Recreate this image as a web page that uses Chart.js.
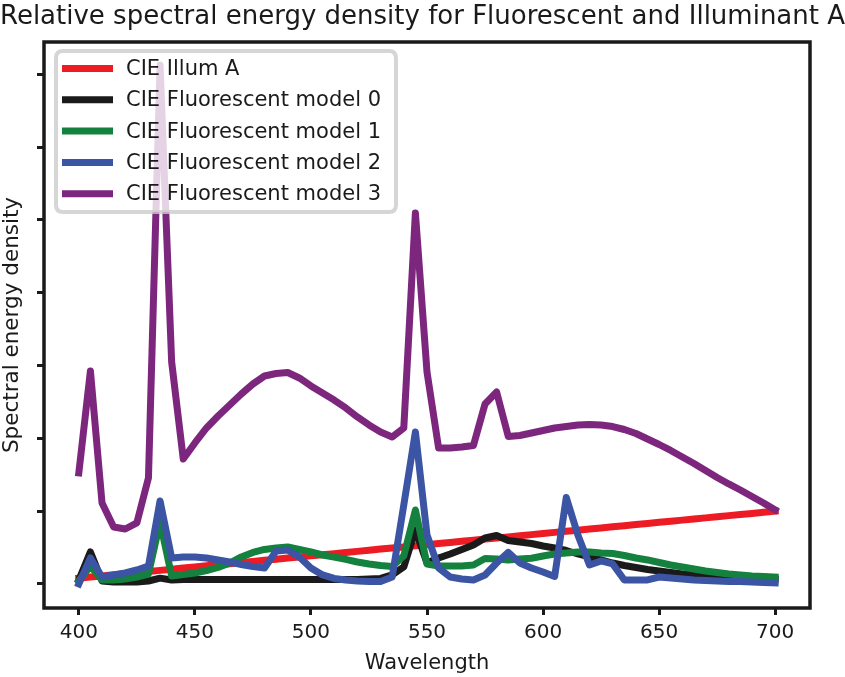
<!DOCTYPE html>
<html>
<head>
<meta charset="utf-8">
<script src="https://cdn.jsdelivr.net/npm/chart.js@4.4.1/dist/chart.umd.min.js"></script>
<style>
  html, body { margin: 0; padding: 0; background: #ffffff; }
  #wrap { width: 845px; height: 677px; }
</style>
</head>
<body>
<div id="wrap"><canvas id="c" width="845" height="677"></canvas></div>
<script>
const chartTitle = "Relative spectral energy density for Fluorescent and Illuminant A";
const xLabel = "Wavelength";
const yLabel = "Spectral energy density";

const wavelengths = [400,405,410,415,420,425,430,435,440,445,450,455,460,465,470,475,480,485,490,495,
  500,505,510,515,520,525,530,535,540,545,550,555,560,565,570,575,580,585,590,595,
  600,605,610,615,620,625,630,635,640,645,650,655,660,665,670,675,680,685,690,695,700];

const seriesNames = ["CIE Illum A","CIE Fluorescent model 0","CIE Fluorescent model 1","CIE Fluorescent model 2","CIE Fluorescent model 3"];

const illumA = [0.080,0.095,0.111,0.126,0.141,0.157,0.172,0.187,0.203,0.218,
  0.233,0.249,0.264,0.279,0.295,0.310,0.325,0.341,0.356,0.371,
  0.387,0.402,0.417,0.433,0.448,0.463,0.479,0.494,0.509,0.525,
  0.540,0.555,0.571,0.586,0.601,0.617,0.632,0.647,0.663,0.678,
  0.693,0.709,0.724,0.739,0.755,0.770,0.785,0.801,0.816,0.831,
  0.847,0.862,0.877,0.893,0.908,0.923,0.939,0.954,0.969,0.985,1.000];

const fluor0 = [0.055,0.440,0.041,0.027,0.027,0.027,0.041,0.080,0.055,0.062,
  0.062,0.062,0.062,0.062,0.062,0.062,0.062,0.062,0.062,0.062,
  0.062,0.062,0.062,0.062,0.062,0.069,0.076,0.124,0.234,0.742,
  0.288,0.357,0.412,0.474,0.536,0.632,0.666,0.598,0.577,0.556,
  0.522,0.495,0.460,0.412,0.371,0.330,0.288,0.254,0.227,0.199,
  0.179,0.158,0.137,0.124,0.110,0.096,0.089,0.082,0.076,0.069,0.062];

const fluor1 = [0.041,0.247,0.055,0.055,0.069,0.096,0.137,0.852,0.110,0.130,
  0.151,0.185,0.227,0.288,0.371,0.433,0.474,0.495,0.508,0.474,
  0.440,0.398,0.371,0.337,0.302,0.275,0.254,0.240,0.385,1.016,
  0.275,0.247,0.247,0.247,0.261,0.350,0.343,0.330,0.343,0.353,
  0.385,0.412,0.426,0.440,0.440,0.426,0.419,0.391,0.357,0.330,
  0.295,0.261,0.234,0.206,0.179,0.158,0.137,0.124,0.110,0.103,0.096];

const fluor2 = [0.000,0.357,0.096,0.124,0.151,0.192,0.247,1.140,0.357,0.371,
  0.371,0.357,0.330,0.302,0.268,0.240,0.220,0.453,0.467,0.371,
  0.220,0.124,0.076,0.055,0.041,0.034,0.034,0.096,1.085,2.088,
  0.673,0.220,0.096,0.069,0.055,0.124,0.288,0.433,0.288,0.220,
  0.165,0.103,1.188,0.673,0.261,0.316,0.275,0.055,0.055,0.055,
  0.096,0.082,0.069,0.055,0.048,0.041,0.034,0.034,0.027,0.021,0.014];

const fluor3 = [1.525,2.926,1.113,0.783,0.755,0.838,1.456,7.129,3.049,1.717,
  1.937,2.143,2.308,2.459,2.610,2.747,2.857,2.891,2.905,2.830,
  2.720,2.624,2.527,2.418,2.294,2.184,2.088,2.019,2.143,5.096,
  2.912,1.868,1.868,1.882,1.902,2.473,2.637,2.026,2.040,2.074,
  2.108,2.143,2.163,2.184,2.191,2.184,2.163,2.122,2.067,1.992,
  1.916,1.834,1.745,1.655,1.559,1.463,1.374,1.291,1.202,1.113,1.016];

const xTicks = [400,450,500,550,600,650,700];
const yTicks = [0,1,2,3,4,5,6,7];

const seriesColors = ["#ed1c24","#1a1a1a","#14813f","#3b55a4","#7d267e"];
const seriesValues = [illumA, fluor0, fluor1, fluor2, fluor3];

const FONT = "'DejaVu Sans', 'Liberation Sans', sans-serif";
const INK = "#1a1a1a";

const datasets = seriesValues.map((vals, i) => ({
  label: seriesNames[i],
  data: wavelengths.map((w, k) => ({x: w, y: vals[k]})),
  borderColor: seriesColors[i],
  backgroundColor: seriesColors[i],
  borderWidth: 7,
  pointRadius: 0,
  tension: 0,
  fill: false,
  borderJoinStyle: 'round',
  borderCapStyle: 'square',
  order: seriesValues.length - 1 - i
}));

const framePlugin = {
  id: 'frameAndLegend',
  afterDatasetsDraw(chart) {
    const {ctx, chartArea: a} = chart;
    ctx.save();
    // spines
    ctx.strokeStyle = INK;
    ctx.lineWidth = 3.5;
    ctx.strokeRect(a.left, a.top, a.right - a.left, a.bottom - a.top);
    // legend box
    const bx = 56, by = 51, bw = 340, bh = 161, r = 7;
    ctx.beginPath();
    ctx.moveTo(bx + r, by);
    ctx.lineTo(bx + bw - r, by);
    ctx.quadraticCurveTo(bx + bw, by, bx + bw, by + r);
    ctx.lineTo(bx + bw, by + bh - r);
    ctx.quadraticCurveTo(bx + bw, by + bh, bx + bw - r, by + bh);
    ctx.lineTo(bx + r, by + bh);
    ctx.quadraticCurveTo(bx, by + bh, bx, by + bh - r);
    ctx.lineTo(bx, by + r);
    ctx.quadraticCurveTo(bx, by, bx + r, by);
    ctx.closePath();
    ctx.fillStyle = 'rgba(255,255,255,0.8)';
    ctx.fill();
    ctx.strokeStyle = 'rgba(204,204,204,0.8)';
    ctx.lineWidth = 4;
    ctx.stroke();
    // entries
    ctx.font = "21px " + FONT;
    ctx.textBaseline = 'middle';
    ctx.textAlign = 'left';
    seriesNames.forEach((name, i) => {
      const yy = 68.5 + i * 31.3;
      ctx.strokeStyle = seriesColors[i];
      ctx.lineWidth = 7;
      ctx.lineCap = 'butt';
      ctx.beginPath();
      ctx.moveTo(62, yy);
      ctx.lineTo(113, yy);
      ctx.stroke();
      ctx.fillStyle = INK;
      ctx.fillText(name, 126, yy + 1);
    });
    ctx.restore();
  }
};

new Chart(document.getElementById('c'), {
  type: 'line',
  data: { datasets },
  options: {
    responsive: false,
    animation: false,
    devicePixelRatio: 1,
    layout: { padding: { left: 0, right: 0, top: 0, bottom: 0 } },
    plugins: {
      legend: { display: false },
      tooltip: { enabled: false },
      title: {
        display: true,
        text: chartTitle,
        color: INK,
        font: { family: FONT, size: 26, weight: 'normal' },
        padding: { top: 2, bottom: 8.8 }
      }
    },
    scales: {
      x: {
        type: 'linear',
        min: 385,
        max: 715,
        afterBuildTicks: s => { s.ticks = xTicks.map(v => ({ value: v })); },
        afterFit: s => { s.height = 69; },
        ticks: { color: INK, font: { family: FONT, size: 20 }, padding: 6, maxRotation: 0, autoSkip: false },
        grid: { drawOnChartArea: false, drawTicks: true, tickLength: 7, lineWidth: 3, color: INK },
        border: { display: false },
        title: { display: true, text: xLabel, color: INK, font: { family: FONT, size: 21 }, padding: { top: 0, bottom: 1 } }
      },
      y: {
        type: 'linear',
        min: -0.33,
        max: 7.445,
        afterBuildTicks: s => { s.ticks = yTicks.map(v => ({ value: v })); },
        afterFit: s => { s.width = 44; },
        ticks: { callback: () => '', font: { family: FONT, size: 20 } },
        grid: { drawOnChartArea: false, drawTicks: true, tickLength: 7, lineWidth: 3, color: INK },
        border: { display: false },
        title: { display: true, text: yLabel, color: INK, font: { family: FONT, size: 21.5 }, padding: { top: 0, bottom: 0 } }
      },
      yRightSpace: {
        type: 'linear',
        position: 'right',
        display: true,
        afterFit: s => { s.width = 35; },
        ticks: { display: false },
        grid: { display: false },
        border: { display: false }
      }
    }
  },
  plugins: [framePlugin]
});
</script>
</body>
</html>
